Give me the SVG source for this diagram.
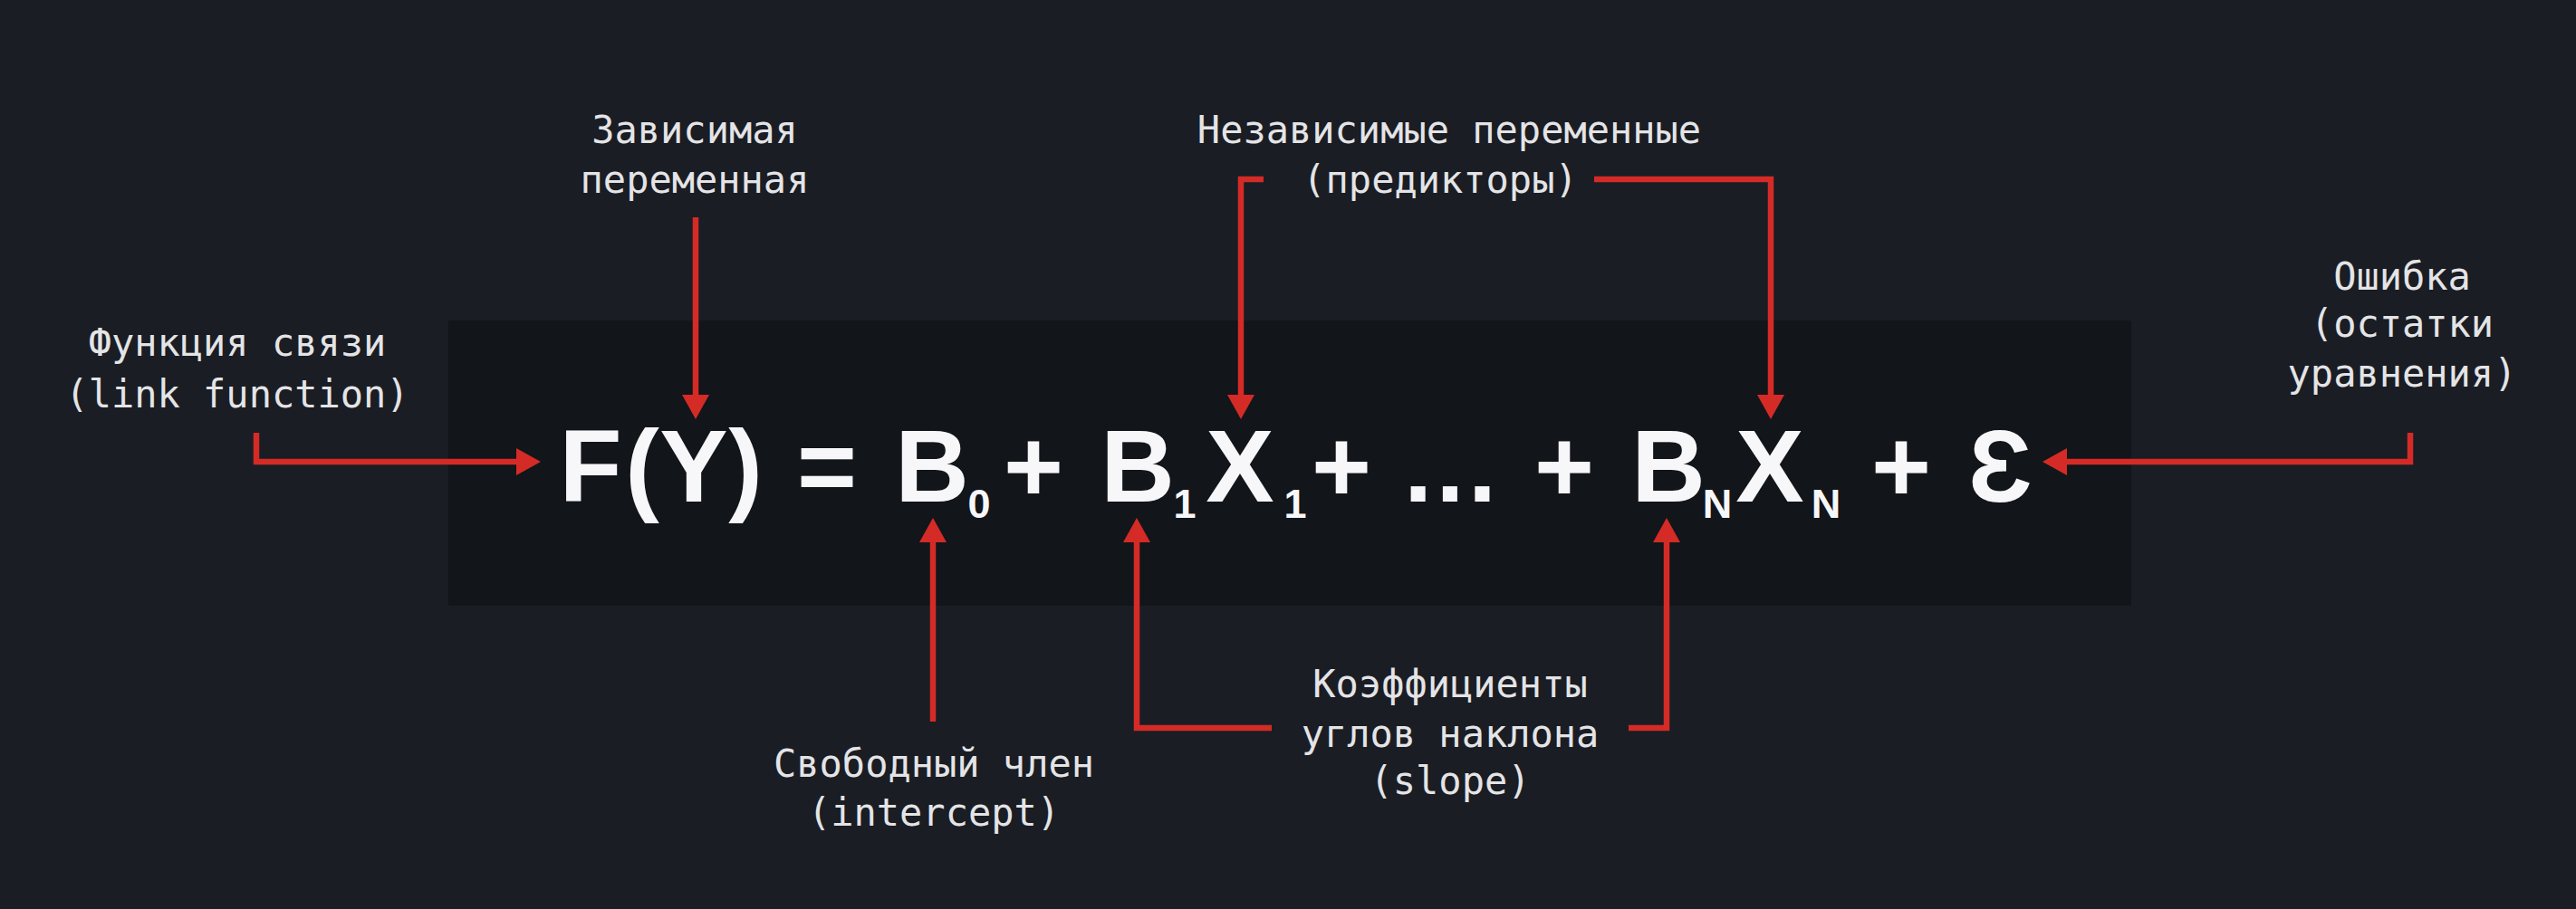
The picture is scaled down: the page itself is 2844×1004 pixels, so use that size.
<svg xmlns="http://www.w3.org/2000/svg" width="2844" height="1004" viewBox="0 0 2844 1004">
<defs>
<style>
.lbl{font-family:"DejaVu Sans Mono","Liberation Mono",monospace;font-size:42px;fill:#e4e4e6;text-anchor:middle}
.fm{font-family:"Liberation Sans","DejaVu Sans",Arial,sans-serif;font-weight:bold;font-size:113px;fill:#f7f7f9;text-anchor:middle}
.sub{font-family:"Liberation Sans","DejaVu Sans",Arial,sans-serif;font-weight:bold;font-size:45px;fill:#f7f7f9;text-anchor:middle}
.con{fill:none;stroke:#d42b26;stroke-width:6.5;marker-end:url(#ah)}
</style>
<marker id="ah" markerUnits="userSpaceOnUse" markerWidth="27" markerHeight="30" refX="1" refY="15" orient="auto">
<path d="M0,0 L27,15 L0,30 Z" fill="#d42b26"/>
</marker>
</defs>
<rect width="2844" height="1004" fill="#1a1d24"/>
<rect x="495" y="354" width="1858" height="315" fill="#12151a"/>

<g id="formula">
<text class="fm" x="652" y="554">F</text>
<text class="fm" x="709" y="554">(</text>
<text class="fm" x="766" y="554">Y</text>
<text class="fm" x="823" y="554">)</text>
<text class="fm" x="913" y="554">=</text>
<text class="fm" x="1029" y="554">B</text><text class="sub" x="1081" y="572">0</text>
<text class="fm" x="1141" y="554">+</text>
<text class="fm" x="1256" y="554">B</text><text class="sub" x="1308" y="572">1</text>
<text class="fm" x="1369" y="554">X</text><text class="sub" x="1430" y="572">1</text>
<text class="fm" x="1481" y="554">+</text>
<text class="fm" x="1603" y="554" letter-spacing="4">...</text>
<text class="fm" x="1727" y="554">+</text>
<text class="fm" x="1842" y="554">B</text><text class="sub" x="1896" y="572">N</text>
<text class="fm" x="1954" y="554">X</text><text class="sub" x="2016" y="572">N</text>
<text class="fm" x="2099" y="554">+</text>
<text class="fm" x="2208" y="554">Ɛ</text>
</g>

<g id="link-function">
<text class="lbl" x="262" y="393">Функция связи</text>
<text class="lbl" x="262" y="450">(link function)</text>
</g>
<g id="dependent">
<text class="lbl" x="767" y="158">Зависимая</text>
<text class="lbl" x="767" y="213">переменная</text>
</g>
<g id="predictors">
<text class="lbl" x="1600" y="158">Независимые переменные</text>
<text class="lbl" x="1590" y="213">(предикторы)</text>
</g>
<g id="error">
<text class="lbl" x="2652" y="320">Ошибка</text>
<text class="lbl" x="2652" y="372">(остатки</text>
<text class="lbl" x="2652" y="427">уравнения)</text>
</g>
<g id="intercept">
<text class="lbl" x="1031" y="858">Свободный член</text>
<text class="lbl" x="1031" y="912">(intercept)</text>
</g>
<g id="slope">
<text class="lbl" x="1601" y="770">Коэффициенты</text>
<text class="lbl" x="1601" y="825">углов наклона</text>
<text class="lbl" x="1601" y="877">(slope)</text>
</g>

<g id="connectors">
<path class="con" d="M283,478 V510 H571"/>
<path class="con" d="M768,240 V437"/>
<path class="con" d="M1395,198 H1370 V437"/>
<path class="con" d="M1760,198 H1955 V437"/>
<path class="con" d="M2661,478 V510 H2281"/>
<path class="con" d="M1030,797 V598"/>
<path class="con" d="M1404,804 H1255 V598"/>
<path class="con" d="M1798,804 H1840 V598"/>
</g>
</svg>
